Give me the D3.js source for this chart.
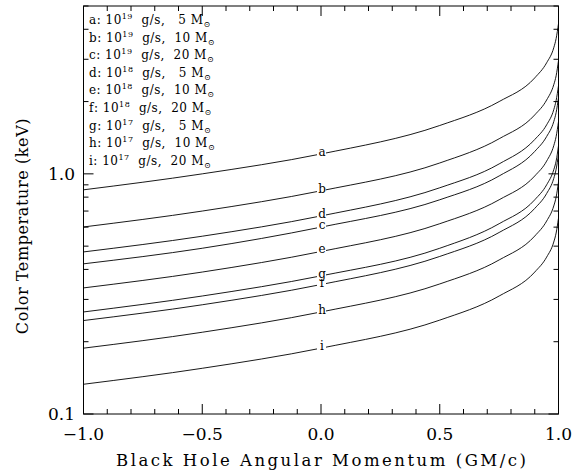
<!DOCTYPE html>
<html>
<head>
<meta charset="utf-8">
<script src="https://cdn.jsdelivr.net/npm/d3@7"></script>
<style>
  body { margin: 0; background: #fff; }
  text { font-family: "DejaVu Serif", "Liberation Serif", serif; fill: #000; }
</style>
</head>
<body>
<div id="canvas"></div>
<script>
// spin values where each curve was read
var spins = [-1.0, -0.5, 0.0, 0.5, 0.75, 0.9, 0.95, 0.98, 0.99, 1.0]

// color temperature (keV), one list per curve
var curve_a = [0.858, 1.00, 1.21, 1.59, 2.00, 2.51, 2.90, 3.35, 3.66, 4.22]
var curve_b = [0.601, 0.70, 0.85, 1.11, 1.40, 1.76, 2.03, 2.35, 2.56, 2.96]
var curve_c = [0.422, 0.49, 0.60, 0.78, 0.98, 1.24, 1.43, 1.65, 1.80, 2.08]
var curve_d = [0.473, 0.55, 0.668, 0.875, 1.10, 1.39, 1.60, 1.85, 2.02, 2.33]
var curve_e = [0.335, 0.39, 0.475, 0.62, 0.78, 0.98, 1.13, 1.31, 1.43, 1.65]
var curve_f = [0.245, 0.285, 0.346, 0.453, 0.57, 0.718, 0.828, 0.957, 1.045, 1.205]
var curve_g = [0.266, 0.31, 0.376, 0.49, 0.62, 0.78, 0.90, 1.04, 1.13, 1.31]
var curve_h = [0.188, 0.219, 0.266, 0.348, 0.438, 0.551, 0.636, 0.735, 0.80, 0.925]
var curve_i = [0.133, 0.155, 0.188, 0.246, 0.31, 0.39, 0.45, 0.52, 0.567, 0.654]

var curve_names = ['a', 'b', 'c', 'd', 'e', 'f', 'g', 'h', 'i']
var curves = [curve_a, curve_b, curve_c, curve_d, curve_e, curve_f, curve_g, curve_h, curve_i]

var legend_rates = ['19', '19', '19', '18', '18', '18', '17', '17', '17']
var legend_masses = [' 5', '10', '20', ' 5', '10', '20', ' 5', '10', '20']

var x_ticks = [-1.0, -0.5, 0.0, 0.5, 1.0]
var y_ticks = [0.1, 1.0]

var width = 582, height = 471
var pl = 83.5, pr = 558.5, pt = 6, pb = 414

var svg = d3.select('#canvas').append('svg')
    .attr('width', width)
    .attr('height', height)

var x = d3.scaleLinear().domain([-1, 1]).range([pl, pr])
var y = d3.scaleLog().domain([0.1, 5]).range([pb, pt])

// frame
svg.append('rect')
    .attr('x', pl).attr('y', pt)
    .attr('width', pr - pl).attr('height', pb - pt)
    .attr('fill', 'none').attr('stroke', '#000').attr('stroke-width', 1)

// x ticks, major and minor, on bottom and top
var x_minor = d3.range(-10, 11).map(function(k) { return k / 10 })
x_minor.forEach(function(v) {
    var major = Math.abs(v * 2 - Math.round(v * 2)) < 1e-6
    var len = major ? 10 : 5
    svg.append('line').attr('x1', x(v)).attr('x2', x(v))
        .attr('y1', pb).attr('y2', pb - len)
        .attr('stroke', '#000').attr('stroke-width', 1)
    svg.append('line').attr('x1', x(v)).attr('x2', x(v))
        .attr('y1', pt).attr('y2', pt + len)
        .attr('stroke', '#000').attr('stroke-width', 1)
})

// y ticks
var y_minor = [0.2, 0.3, 0.4, 0.5, 0.6, 0.7, 0.8, 0.9, 2, 3, 4, 5]
y_minor.concat(y_ticks).forEach(function(v) {
    var len = y_ticks.indexOf(v) >= 0 ? 10 : 5
    svg.append('line').attr('x1', pl).attr('x2', pl + len)
        .attr('y1', y(v)).attr('y2', y(v))
        .attr('stroke', '#000').attr('stroke-width', 1)
    svg.append('line').attr('x1', pr).attr('x2', pr - len)
        .attr('y1', y(v)).attr('y2', y(v))
        .attr('stroke', '#000').attr('stroke-width', 1)
})

// tick labels
x_ticks.forEach(function(v) {
    svg.append('text')
        .attr('x', x(v)).attr('y', 440)
        .attr('text-anchor', 'middle')
        .attr('font-size', 17)
        .text((v < 0 ? '\u2212' : '') + Math.abs(v).toFixed(1))
})
y_ticks.forEach(function(v) {
    svg.append('text')
        .attr('x', 75).attr('y', y(v) + 6)
        .attr('text-anchor', 'end')
        .attr('font-size', 17)
        .text(v.toFixed(1))
})

// axis titles
svg.append('text')
    .attr('x', 116).attr('y', 466)
    .attr('font-size', 16.5)
    .attr('textLength', 410)
    .attr('lengthAdjust', 'spacing')
    .text('Black Hole Angular Momentum (GM/c)')
svg.append('text')
    .attr('transform', 'translate(28,226) rotate(-90)')
    .attr('text-anchor', 'middle')
    .attr('font-size', 16)
    .attr('letter-spacing', 0.6)
    .text('Color Temperature (keV)')

// curves
var line = d3.line()
    .x(function(d) { return x(d[0]) })
    .y(function(d) { return y(d[1]) })
    .curve(d3.curveMonotoneX)

curves.forEach(function(vals, k) {
    var pts = spins.map(function(s, j) { return [s, vals[j]] })
    svg.append('path')
        .attr('d', line(pts))
        .attr('fill', 'none')
        .attr('stroke', '#000')
        .attr('stroke-width', 0.9)

    // letter on the curve at spin 0
    var v0 = vals[spins.indexOf(0)]
    svg.append('rect')
        .attr('x', x(0) - 4).attr('y', y(v0) - 6)
        .attr('width', 9).attr('height', 9)
        .attr('fill', '#fff')
    svg.append('text')
        .attr('x', x(0) + 1).attr('y', y(v0) + 2)
        .attr('text-anchor', 'middle')
        .attr('font-size', 12)
        .text(curve_names[k])
})

// legend
curve_names.forEach(function(n, k) {
    var t = svg.append('text')
        .attr('x', 89).attr('y', 24 + k * 17.6)
        .attr('font-size', 12)
        .attr('letter-spacing', 0.5)
        .attr('xml:space', 'preserve')
    t.append('tspan').text(n + ': 10')
    t.append('tspan').attr('dy', -5).attr('font-size', 8).text(legend_rates[k])
    t.append('tspan').attr('dy', 5).text('  g/s,  ' + legend_masses[k] + ' M')
    t.append('tspan').attr('dy', 3).attr('font-size', 8).text('\u2299')
})
</script>
</body>
</html>
